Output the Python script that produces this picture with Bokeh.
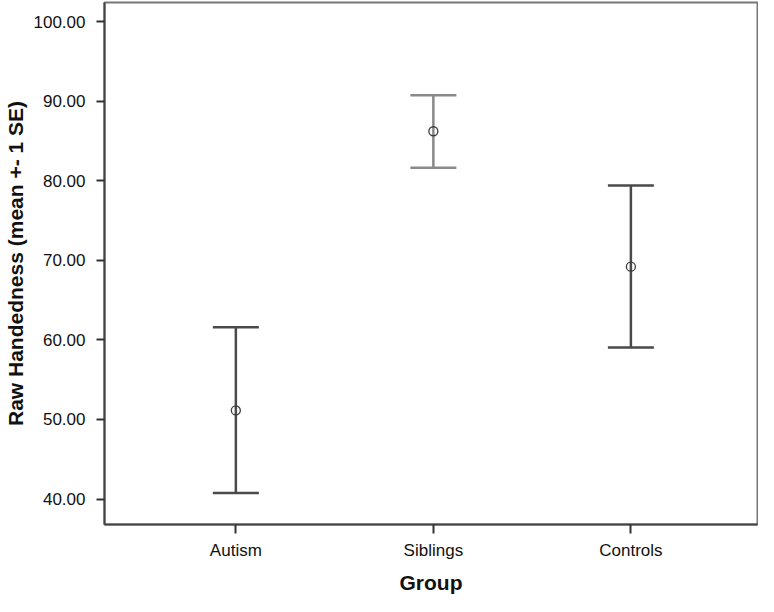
from bokeh.plotting import figure
from bokeh.models import Range1d, FixedTicker, PrintfTickFormatter, ColumnDataSource
from bokeh.embed import file_html
from bokeh.resources import INLINE

# Data
groups = ["Autism", "Siblings", "Controls"]
means = [51.13, 86.22, 69.20]
lower = [40.75, 81.62, 59.03]
upper = [61.58, 90.74, 79.40]
bar_colors = ["#4a4a4a", "#8a8a8a", "#4a4a4a"]
y_ticks = [40, 50, 60, 70, 80, 90, 100]
x_title = "Group"
y_title = "Raw Handedness (mean +- 1 SE)"

xpos = list(range(1, len(groups) + 1))
src = ColumnDataSource(dict(x=xpos, mean=means, lower=lower, upper=upper, color=bar_colors))

FONT = "Liberation Sans"

p = figure(width=758, height=596, output_backend="svg", toolbar_location=None,
           x_range=Range1d(0.335, 3.641), y_range=Range1d(36.8, 102.4),
           min_border_left=104, min_border_right=1, min_border_top=2, min_border_bottom=71)
p.grid.visible = False
p.outline_line_color = "#777777"
p.outline_line_width = 2
p.background_fill_color = "white"
p.border_fill_color = "white"

p.segment(x0="x", y0="lower", x1="x", y1="upper", line_color="color", line_width=2.5, source=src)
p.scatter(x="x", y="upper", marker="dash", size=46, line_color="color", line_width=2.5, source=src)
p.scatter(x="x", y="lower", marker="dash", size=46, line_color="color", line_width=2.5, source=src)
p.scatter(x="x", y="mean", marker="circle", size=9, fill_color=None, line_color="#3c3c3c",
          line_width=1.3, source=src)

xa = p.xaxis[0]
xa.ticker = FixedTicker(ticks=xpos)
xa.major_label_overrides = {x: g for x, g in zip(xpos, groups)}
xa.axis_label = x_title
xa.major_label_standoff = 7
xa.axis_label_standoff = 8

ya = p.yaxis[0]
ya.ticker = FixedTicker(ticks=y_ticks)
ya.formatter = PrintfTickFormatter(format="%.2f")
ya.axis_label = y_title
ya.major_label_standoff = 11
ya.axis_label_standoff = 4

for ax in (xa, ya):
    ax.minor_tick_line_color = None
    ax.major_tick_in = 0
    ax.major_tick_out = 9 if ax is xa else 8
    ax.major_tick_line_color = "#333333"
    ax.major_tick_line_width = 2
    ax.axis_line_color = "#444444"
    ax.axis_line_width = 2
    ax.major_label_text_font = FONT
    ax.major_label_text_font_size = "17px"
    ax.major_label_text_color = "#111111"
    ax.axis_label_text_font = FONT
    ax.axis_label_text_font_size = "21px"
    ax.axis_label_text_font_style = "bold"
    ax.axis_label_text_color = "#111111"

open("out.html", "w").write(file_html(p, INLINE))
